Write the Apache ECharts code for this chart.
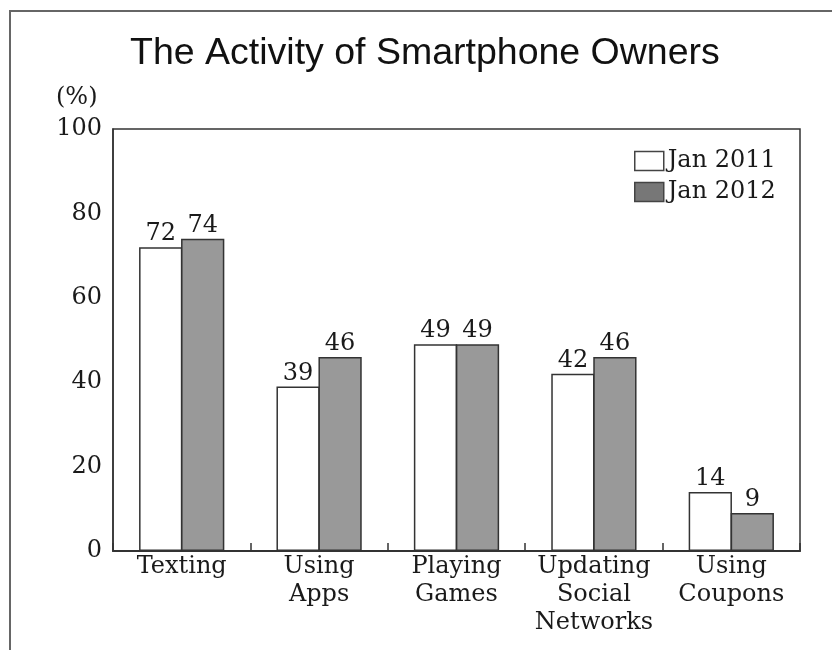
<!DOCTYPE html>
<html>
<head>
<meta charset="utf-8">
<script src="https://cdn.jsdelivr.net/npm/echarts@6/dist/echarts.min.js"></script>
<style>
html,body{margin:0;padding:0;background:#fff;}
#chart{width:832px;height:650px;}
</style>
</head>
<body>
<div id="chart"></div>
<script>
const categories = ['Texting', 'Using\nApps', 'Playing\nGames', 'Updating\nSocial\nNetworks', 'Using\nCoupons'];
const seriesNames = ['Jan 2011', 'Jan 2012'];
const jan2011 = [72, 39, 49, 42, 14];
const jan2012 = [74, 46, 49, 46, 9];
const yTicks = [0, 20, 40, 60, 80, 100];

const serif = '"DejaVu Serif", serif';
const chart = echarts.init(document.getElementById('chart'), null, {renderer: 'canvas'});
chart.setOption({
  backgroundColor: '#fff',
  animation: false,
  graphic: [{
    type: 'rect',
    shape: {x: 10, y: 11, width: 900, height: 800},
    style: {fill: 'none', stroke: '#666', lineWidth: 2},
    z: -1
  }, {
    type: 'text',
    left: 56, top: 86,
    style: {text: '(%)', font: '24px ' + serif, fill: '#1a1a1a'}
  }],
  title: {
    text: 'The Activity of Smartphone Owners',
    left: 130, top: 35,
    textStyle: {fontFamily: '"Liberation Sans", Arial, sans-serif', fontSize: 37.5, fontWeight: 'normal', color: '#111'},
    padding: 0
  },
  legend: {
    orient: 'vertical',
    left: 629, top: 144,
    itemWidth: 29, itemHeight: 19, itemGap: 7,
    icon: 'rect',
    textStyle: {fontFamily: serif, fontSize: 24, color: '#1a1a1a', padding: [0, 0, 0, -1]},
    data: [
      {name: seriesNames[0], itemStyle: {color: '#fff', borderColor: '#444', borderWidth: 1.5}},
      {name: seriesNames[1], itemStyle: {color: '#777', borderColor: '#444', borderWidth: 1.5}}
    ]
  },
  grid: {
    left: 113, right: 32, top: 129, bottom: 99,
    show: true, borderColor: '#333', borderWidth: 1.5, backgroundColor: 'transparent'
  },
  xAxis: {
    type: 'category',
    data: categories,
    axisLine: {lineStyle: {color: '#333', width: 2}},
    axisTick: {show: true, inside: true, length: 8, interval: 0, lineStyle: {color: '#333', width: 1.5}},
    axisLabel: {interval: 0, fontFamily: serif, fontSize: 24, color: '#1a1a1a', lineHeight: 28, margin: 2}
  },
  yAxis: {
    type: 'value',
    min: yTicks[0], max: yTicks[yTicks.length - 1], interval: 20,
    axisLine: {show: true, lineStyle: {color: '#333', width: 1.5}},
    axisTick: {show: false},
    splitLine: {show: false},
    axisLabel: {fontFamily: serif, fontSize: 24, color: '#1a1a1a', margin: 11}
  },
  series: [{
    name: seriesNames[0], type: 'bar', data: jan2011,
    barWidth: '31.5%', barGap: '-3%',
    itemStyle: {color: '#fff', borderColor: '#333', borderWidth: 1.5},
    label: {show: true, position: 'top', distance: 1, fontFamily: serif, fontSize: 24, color: '#1a1a1a'}
  }, {
    name: seriesNames[1], type: 'bar', data: jan2012,
    barWidth: '31.5%', barGap: '-3%',
    itemStyle: {color: '#999', borderColor: '#333', borderWidth: 1.5},
    label: {show: true, position: 'top', distance: 1, fontFamily: serif, fontSize: 24, color: '#1a1a1a'}
  }]
});
</script>
</body>
</html>
